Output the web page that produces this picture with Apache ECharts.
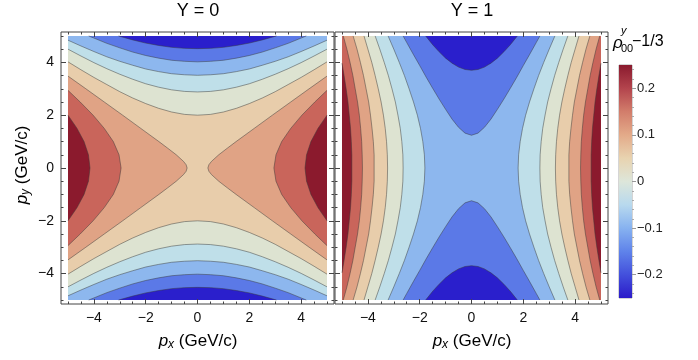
<!DOCTYPE html>
<html>
<head>
<meta charset="utf-8">
<title>rho00 contour</title>
<script src="https://cdn.jsdelivr.net/npm/echarts@6/dist/echarts.min.js"></script>
<style>
  html, body { margin: 0; padding: 0; background: #fff; }
  #main { width: 698px; height: 360px; }
</style>
</head>
<body>
<div id="main"></div>
<script>
// contour levels of rho00^y - 1/3; bandColors[i] fills values between levels[i-1] and levels[i]
const levels = [-0.15, -0.1, -0.05, 0, 0.05, 0.1, 0.15, 0.2]
const bandColors = ['#2a1fcc', '#5b79e7', '#8db7ee', '#bfdfe9', '#dde3d1', '#e8cdab', '#e0a385', '#c9655b', '#8b1a2d']

// contour lines, quarter plane px >= 0, py >= 0, as [px, py]
// (both plots are mirror symmetric in px and py)
// Y = 0
const y0Center = 0.075 // value band at the saddle point
const y0Side = [ // lines around the left / right lobes
  { level: 0.1, pts: [[0.40, 0], [0.44, 0.125], [0.54, 0.25], [0.82, 0.5], [1.15, 0.75], [1.49, 1], [2.19, 1.5], [2.89, 2], [3.60, 2.5], [4.31, 3], [5, 3.48]] },
  { level: 0.15, pts: [[2.95, 0], [3.03, 0.5], [3.25, 1], [3.60, 1.5], [4.03, 2], [4.53, 2.5], [5, 2.94]] },
  { level: 0.2, pts: [[4.15, 0], [4.21, 0.5], [4.38, 1], [4.65, 1.5], [5, 2.0]] }
]
const y0Top = [ // lines around the top / bottom lobes
  { level: 0.05, pts: [[0, 2.0], [0.5, 2.03], [1, 2.12], [1.5, 2.26], [2, 2.44], [2.5, 2.65], [3, 2.89], [3.5, 3.16], [4, 3.43], [4.5, 3.72], [5, 4.02]] },
  { level: 0, pts: [[0, 2.88], [0.5, 2.90], [1, 2.96], [1.5, 3.06], [2, 3.19], [2.5, 3.36], [3, 3.55], [3.5, 3.76], [4, 3.99], [4.5, 4.24], [5, 4.5]] },
  { level: -0.05, pts: [[0, 3.51], [0.5, 3.53], [1, 3.57], [1.5, 3.65], [2, 3.75], [2.5, 3.89], [3, 4.04], [3.5, 4.21], [4, 4.41], [4.5, 4.62], [5, 4.84]] },
  { level: -0.1, pts: [[0, 4.02], [0.5, 4.04], [1, 4.08], [1.5, 4.16], [2, 4.26], [2.5, 4.39], [3, 4.55], [3.5, 4.72], [4, 4.92], [4.2, 5]] },
  { level: -0.15, pts: [[0, 4.52], [0.5, 4.53], [1, 4.57], [1.5, 4.64], [2, 4.73], [2.5, 4.85], [3.05, 5]] }
]
// Y = 1
const y1Center = -0.075
const y1Side = [
  { level: -0.05, pts: [[1.80, 0], [1.82, 0.5], [1.88, 1], [1.97, 1.5], [2.09, 2], [2.24, 2.5], [2.41, 3], [2.59, 3.5], [2.79, 4], [3.00, 4.5], [3.22, 5]] },
  { level: 0, pts: [[2.64, 0], [2.65, 0.5], [2.69, 1], [2.75, 1.5], [2.84, 2], [2.94, 2.5], [3.07, 3], [3.21, 3.5], [3.37, 4], [3.54, 4.5], [3.72, 5]] },
  { level: 0.05, pts: [[3.24, 0], [3.25, 0.5], [3.28, 1], [3.33, 1.5], [3.40, 2], [3.49, 2.5], [3.60, 3], [3.72, 3.5], [3.85, 4], [4.00, 4.5], [4.15, 5]] },
  { level: 0.1, pts: [[3.76, 0], [3.76, 0.5], [3.79, 1], [3.84, 1.5], [3.90, 2], [3.97, 2.5], [4.07, 3], [4.17, 3.5], [4.29, 4], [4.42, 4.5], [4.57, 5]] },
  { level: 0.15, pts: [[4.21, 0], [4.22, 0.5], [4.24, 1], [4.28, 1.5], [4.33, 2], [4.40, 2.5], [4.49, 3], [4.58, 3.5], [4.69, 4], [4.81, 4.5], [4.95, 5]] },
  { level: 0.2, pts: [[4.62, 0], [4.62, 0.5], [4.64, 1], [4.67, 1.5], [4.72, 2], [4.77, 2.5], [4.84, 3], [4.92, 3.5], [5, 3.97]] }
]
const y1Top = [
  { level: -0.1, pts: [[0, 1.24], [0.25, 1.32], [0.5, 1.54], [0.75, 1.85], [1, 2.22], [1.25, 2.61], [1.5, 3.02], [1.75, 3.44], [2, 3.88], [2.25, 4.31], [2.5, 4.75], [2.64, 5]] },
  { level: -0.15, pts: [[0, 3.70], [0.25, 3.73], [0.5, 3.82], [0.75, 3.97], [1, 4.16], [1.25, 4.40], [1.5, 4.67], [1.77, 5]] }
]

const axisLabels = [-4, -2, 0, 2, 4]
const axisMinor = [-5, -4.5, -3.5, -3, -2.5, -1.5, -1, -0.5, 0.5, 1, 1.5, 2.5, 3, 3.5, 4.5, 5]
const barLabels = [-0.2, -0.1, 0, 0.1, 0.2]
const barStops = [[-0.25, '#2b1bc9'], [-0.2, '#4350dc'], [-0.15, '#5f83ea'], [-0.1, '#87b2f0'], [-0.05, '#b8d9ee'],
  [0, '#dde6da'], [0.05, '#e8d3b0'], [0.1, '#e3aa89'], [0.15, '#d27d6b'], [0.2, '#b3444d'], [0.25, '#8a1a2e']]

const FONT = "'Liberation Sans', Arial, sans-serif"
const frameColor = '#444'
const LIM = 5

function bandOf(v) {
  let i = 0
  while (i < levels.length && v > levels[i]) i++
  return bandColors[i]
}

// full contour line + filled region for one lobe
function sideLobe(c, sx) {
  const upper = c.pts.map(p => [sx * p[0], p[1]])
  const lower = c.pts.slice(1).reverse().map(p => [sx * p[0], -p[1]])
  const line = lower.concat(upper)
  const last = c.pts[c.pts.length - 1]
  return { line, poly: line.concat([[sx * LIM, last[1]], [sx * LIM, -last[1]]]), color: bandOf(c.level + 0.01) }
}
function topLobe(c, sy) {
  const right = c.pts.map(p => [p[0], sy * p[1]])
  const left = c.pts.slice(1).reverse().map(p => [-p[0], sy * p[1]])
  const line = left.concat(right)
  const last = c.pts[c.pts.length - 1]
  return { line, poly: line.concat([[last[0], sy * LIM], [-last[0], sy * LIM]]), color: bandOf(c.level - 0.01) }
}

function buildPanel(center, side, top) {
  const regions = [{ poly: [[-LIM, -LIM], [LIM, -LIM], [LIM, LIM], [-LIM, LIM]], color: bandOf(center) }]
  const lines = []
  side.forEach(c => [1, -1].forEach(s => { const r = sideLobe(c, s); regions.push(r); lines.push(r.line) }))
  top.slice().sort((a, b) => b.level - a.level).forEach(c => [1, -1].forEach(s => { const r = topLobe(c, s); regions.push(r); lines.push(r.line) }))
  return { regions, lines }
}

function panelSeries(panel, axisIndex) {
  return [
    {
      type: 'custom', xAxisIndex: axisIndex, yAxisIndex: axisIndex, silent: true,
      data: panel.regions.map(() => [0, 0]),
      renderItem(params, api) {
        const r = panel.regions[params.dataIndex]
        return { type: 'polygon', shape: { points: r.poly.map(p => api.coord(p)) }, style: { fill: r.color } }
      }
    },
    {
      type: 'custom', xAxisIndex: axisIndex, yAxisIndex: axisIndex, silent: true, z: 3,
      data: panel.lines.map(() => [0, 0]),
      renderItem(params, api) {
        const l = panel.lines[params.dataIndex]
        return { type: 'polyline', shape: { points: l.map(p => api.coord(p)) }, style: { fill: 'none', stroke: 'rgba(55,55,55,0.6)', lineWidth: 0.8 } }
      }
    }
  ]
}

const minus = v => (v < 0 ? '\u2212' + (-v) : String(v))

function frameAxis(gridIndex, pos, range, values, len, labels) {
  return {
    type: 'value', gridIndex, position: pos, min: -range, max: range, z: 10,
    axisLine: { show: false, onZero: false },
    splitLine: { show: false },
    axisTick: { show: true, inside: true, length: len, customValues: values, lineStyle: { color: frameColor, width: 1 } },
    axisLabel: labels
      ? { show: true, customValues: values, formatter: minus, color: '#111', fontSize: 14, fontFamily: FONT, margin: 7 }
      : { show: false }
  }
}
function panelAxes(gridIndex, withYLabels) {
  const xr = 5.27, yr = 5.15
  return {
    x: [frameAxis(gridIndex, 'bottom', xr, axisLabels, 5, true), frameAxis(gridIndex, 'bottom', xr, axisMinor, 2.5, false),
      frameAxis(gridIndex, 'top', xr, axisLabels, 5, false), frameAxis(gridIndex, 'top', xr, axisMinor, 2.5, false)],
    y: [frameAxis(gridIndex, 'left', yr, axisLabels, 5, withYLabels), frameAxis(gridIndex, 'left', yr, axisMinor, 2.5, false),
      frameAxis(gridIndex, 'right', yr, axisLabels, 5, false), frameAxis(gridIndex, 'right', yr, axisMinor, 2.5, false)]
  }
}

const p0 = buildPanel(y0Center, y0Side, y0Top)
const p1 = buildPanel(y1Center, y1Side, y1Top)
const a0 = panelAxes(0, true)
const a1 = panelAxes(1, false)

const barMinor = []
for (let i = -12; i <= 12; i++) if (i % 5 !== 0) barMinor.push(i / 50)
const barMin = barStops[0][0]
const barMax = barStops[barStops.length - 1][0]

function text(x, y, str, size, extra) {
  return {
    type: 'text', x, y, silent: true,
    style: Object.assign({
      text: str, fontSize: size, fontFamily: FONT, fill: '#000',
      align: 'center', verticalAlign: 'middle', textAlign: 'center', textVerticalAlign: 'middle'
    }, extra || {})
  }
}
const nameRich = {
  i: { fontStyle: 'italic', fontSize: 17, fontFamily: FONT, lineHeight: 20 },
  s: { fontStyle: 'italic', fontSize: 12, fontFamily: FONT, lineHeight: 12, verticalAlign: 'bottom' }
}

const option = {
  animation: false,
  grid: [
    { left: 61, top: 32, width: 273, height: 272, show: true, borderColor: frameColor, borderWidth: 1 },
    { left: 335, top: 32, width: 273, height: 272, show: true, borderColor: frameColor, borderWidth: 1 },
    { left: 619, top: 65, width: 13, height: 233, show: true, borderColor: '#aaa', borderWidth: 1 }
  ],
  xAxis: a0.x.concat(a1.x, [{ type: 'value', gridIndex: 2, min: 0, max: 1, show: false }]),
  yAxis: a0.y.concat(a1.y, [
    {
      type: 'value', gridIndex: 2, position: 'right', min: barMin, max: barMax, z: 10,
      axisLine: { show: false, onZero: false }, splitLine: { show: false },
      axisTick: { show: true, inside: false, length: 4, customValues: barLabels, lineStyle: { color: '#999' } },
      axisLabel: { customValues: barLabels, formatter: minus, color: '#222', fontSize: 13, fontFamily: FONT, margin: 5 }
    },
    {
      type: 'value', gridIndex: 2, position: 'right', min: barMin, max: barMax, z: 10,
      axisLine: { show: false, onZero: false }, splitLine: { show: false },
      axisTick: { show: true, inside: false, length: 2, customValues: barMinor, lineStyle: { color: '#aaa' } },
      axisLabel: { show: false }
    }
  ]),
  series: panelSeries(p0, 0).concat(panelSeries(p1, 4), [
    {
      type: 'custom', xAxisIndex: 8, yAxisIndex: 8, silent: true,
      data: [[0, 0]],
      renderItem(params, api) {
        const a = api.coord([0, barMin])
        const b = api.coord([1, barMax])
        const stops = barStops.map(s => ({ offset: (s[0] - barMin) / (barMax - barMin), color: s[1] }))
        return {
          type: 'rect',
          shape: { x: a[0], y: b[1], width: b[0] - a[0], height: a[1] - b[1] },
          style: { fill: new echarts.graphic.LinearGradient(0, 1, 0, 0, stops) }
        }
      }
    }
  ]),
  graphic: [
    text(198, 11, 'Y = 0', 18),
    text(472, 11, 'Y = 1', 18),
    text(198, 341, '{i|p}{s|x} (GeV/c)', 17, { rich: nameRich, lineHeight: 20 }),
    text(472, 341, '{i|p}{s|x} (GeV/c)', 17, { rich: nameRich, lineHeight: 20 }),
    Object.assign(text(22, 165, '{i|p}{s|y} (GeV/c)', 17, { rich: nameRich, lineHeight: 20 }), { rotation: Math.PI / 2 }),
    text(613, 43, '\u03c1', 17, { fontStyle: 'italic', align: 'left', textAlign: 'left' }),
    text(621, 31, 'y', 11, { fontStyle: 'italic', align: 'left', textAlign: 'left' }),
    text(621, 49, '00', 11, { align: 'left', textAlign: 'left' }),
    text(632, 42, '\u22121/3', 16, { align: 'left', textAlign: 'left' })
  ]
}

const chart = echarts.init(document.getElementById('main'))
chart.setOption(option)
window.addEventListener('resize', () => chart.resize())
</script>
</body>
</html>
